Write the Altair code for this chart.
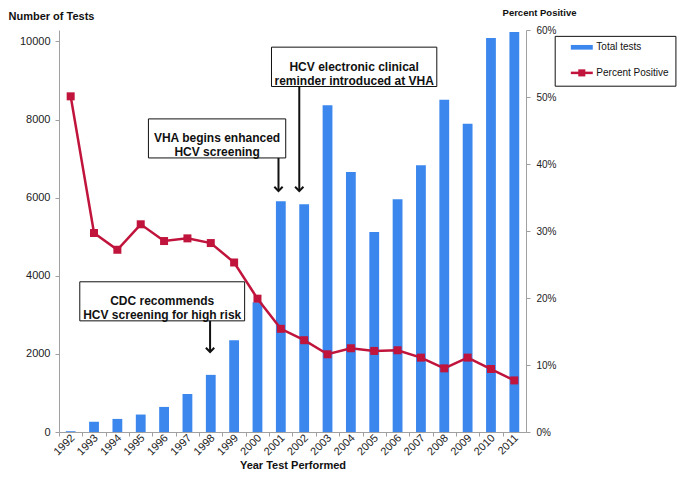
import altair as alt
import pandas as pd

# ---------------- data ----------------
years = [str(y) for y in range(1992, 2012)]
total_tests = [20, 260, 335, 447, 642, 976, 1463, 2349, 3320, 5910,
               5829, 8366, 6659, 5122, 5959, 6829, 8504, 7895, 10090, 10244]
percent_positive = [0.501, 0.297, 0.272, 0.310, 0.285, 0.289, 0.282, 0.253, 0.199, 0.154,
                    0.137, 0.116, 0.125, 0.121, 0.122, 0.111, 0.095, 0.111, 0.094, 0.077]

# annotation boxes (x in category units 0..20, y in number of tests)
box_text = ["HCV electronic clinical\nreminder introduced at VHA",
            "VHA begins enhanced\nHCV screening",
            "CDC recommends\nHCV screening for high risk"]
box_x1 = [9.10, 3.83, 0.89]
box_x2 = [16.18, 9.71, 7.95]
box_y1 = [8846, 7017, 2846]
box_y2 = [9854, 8017, 3846]
arrow_x = [10.29, 9.40, 6.47]
arrow_top = [8846, 7017, 2846]
arrow_tip = [6171, 6171, 2049]

# legend (same units)
legend_labels = ["Total tests", "Percent Positive"]
legend_row_y = [9846, 9195]

BLUE = "#3b87ee"
RED = "#c0143c"
FONT = "Liberation Sans"
AXIS_GRAY = "#a0a0a0"

df = pd.DataFrame({"year": years, "tests": total_tests, "pct": percent_positive})
boxes = pd.DataFrame({"text": box_text, "x1": box_x1, "x2": box_x2, "y1": box_y1, "y2": box_y2,
                      "xc": [(a + b) / 2 for a, b in zip(box_x1, box_x2)],
                      "yc": [(a + b) / 2 for a, b in zip(box_y1, box_y2)]})
arrows = pd.DataFrame({"x": arrow_x, "top": arrow_top, "tip": arrow_tip})

TESTS_MAX = 10293
xscale = alt.Scale(domain=years, paddingInner=0.58, paddingOuter=0.29)


def ax(field):
    return alt.X(field, type="quantitative", scale=alt.Scale(domain=[0, 20], nice=False, zero=False), axis=None)


def ay(field):
    return alt.Y(field, type="quantitative", scale=alt.Scale(domain=[0, TESTS_MAX], nice=False, zero=False), axis=None)


STEP = 467 / 20

bars = alt.Chart(df).mark_bar(color=BLUE).encode(
    x=alt.X("year:O", scale=xscale, sort=years, axis=alt.Axis(
        title="Year Test Performed", titleFont=FONT, titleFontSize=11, titleFontWeight="bold",
        titleColor="#111", titleY=33, titleBaseline="middle",
        labelAngle=-45, labelAlign="right", labelBaseline="middle", labelFont=FONT,
        labelFontSize=11, labelColor="#222", labelPadding=0,
        tickOffset=-STEP / 2, labelOffset=STEP / 2 + 2, tickSize=4,
        domainColor=AXIS_GRAY, tickColor=AXIS_GRAY)),
    y=alt.Y("tests:Q", scale=alt.Scale(domain=[0, TESTS_MAX], nice=False), axis=alt.Axis(
        values=[0, 2000, 4000, 6000, 8000, 10000], format="d", grid=False, tickSize=4, labelPadding=5,
        labelFont=FONT, labelFontSize=11, labelColor="#222",
        domainColor=AXIS_GRAY, tickColor=AXIS_GRAY,
        title="Number of Tests", titleAngle=0, titleAlign="left", titleBaseline="middle",
        titleX=-51, titleY=-14, titleFont=FONT, titleFontSize=11, titleFontWeight="bold",
        titleColor="#111")),
)

pct_y = alt.Scale(domain=[0, 0.6], nice=False)

line = alt.Chart(df).mark_line(color=RED, strokeWidth=2.5).encode(
    x=alt.X("year:O", scale=xscale, sort=years, axis=None),
    y=alt.Y("pct:Q", scale=pct_y, axis=alt.Axis(
        orient="right", values=[0, 0.1, 0.2, 0.3, 0.4, 0.5, 0.6], format=".0%", grid=False,
        tickSize=4, labelPadding=6, labelFont=FONT, labelFontSize=10, labelColor="#222",
        domainColor=AXIS_GRAY, tickColor=AXIS_GRAY,
        title="Percent Positive", titleAngle=0, titleAlign="center", titleBaseline="middle",
        titleX=13, titleY=-18, titleFont=FONT, titleFontSize=9.5, titleFontWeight="bold",
        titleColor="#111")),
)

points = alt.Chart(df).mark_point(shape="square", size=64, filled=True, color=RED, opacity=1).encode(
    x=alt.X("year:O", scale=xscale, sort=years, axis=None),
    y=alt.Y("pct:Q", scale=pct_y, axis=None),
)

box_rects = alt.Chart(boxes).mark_rect(fill="white", stroke="#111", strokeWidth=1).encode(
    x=ax("x1"), x2="x2", y=ay("y1"), y2="y2")

box_texts = alt.Chart(boxes).mark_text(
    font=FONT, fontSize=12, fontWeight="bold", lineBreak="\n", lineHeight=14,
    align="center", baseline="middle", color="#111").encode(
    x=ax("xc"), y=ay("yc"), text="text:N")

arrow_shafts = alt.Chart(arrows).mark_rule(color="#111", strokeWidth=2).encode(
    x=ax("x"), y=ay("top"), y2="tip")

arrow_heads = alt.Chart(arrows).mark_point(
    shape="M-1,-1L0,0L1,-1", size=70, filled=False, color="#111", strokeWidth=2, opacity=1).encode(
    x=ax("x"), y=ay("tip"))

# legend
legend_box = alt.Chart(pd.DataFrame({"x1": [21.25], "x2": [26.42], "y1": [8854], "y2": [10130]})).mark_rect(
    fill="white", stroke="#111", strokeWidth=1).encode(x=ax("x1"), x2="x2", y=ay("y1"), y2="y2")

legend_swatch = alt.Chart(pd.DataFrame({"x1": [21.92], "x2": [22.86], "y1": [9790], "y2": [9910]})).mark_rect(
    color=BLUE).encode(x=ax("x1"), x2="x2", y=ay("y1"), y2="y2")

legend_line = alt.Chart(pd.DataFrame({"x1": [21.92], "x2": [22.86], "y": [legend_row_y[1]]})).mark_rule(
    color=RED, strokeWidth=2.5).encode(x=ax("x1"), x2="x2", y=ay("y"))

legend_marker = alt.Chart(pd.DataFrame({"x": [22.39], "y": [legend_row_y[1]]})).mark_point(
    shape="square", size=50, filled=True, color=RED, opacity=1).encode(x=ax("x"), y=ay("y"))

legend_text = alt.Chart(pd.DataFrame({"x": [22.97, 22.97], "y": legend_row_y, "t": legend_labels})).mark_text(
    font=FONT, fontSize=10, align="left", baseline="middle", color="#111", dx=1).encode(
    x=ax("x"), y=ay("y"), text="t:N")

chart = alt.layer(
    bars, line, points, box_rects, arrow_shafts, arrow_heads, box_texts,
    legend_box, legend_swatch, legend_line, legend_marker, legend_text
).resolve_scale(x="independent", y="independent").properties(
    width=467, height=402,
    autosize=alt.AutoSizeParams(type="none"),
    padding={"left": 51, "top": 22, "right": 151, "bottom": 42},
    background="white",
).configure_view(stroke=None)

chart.save("out.html", embed_options={"renderer": "svg", "actions": False})
